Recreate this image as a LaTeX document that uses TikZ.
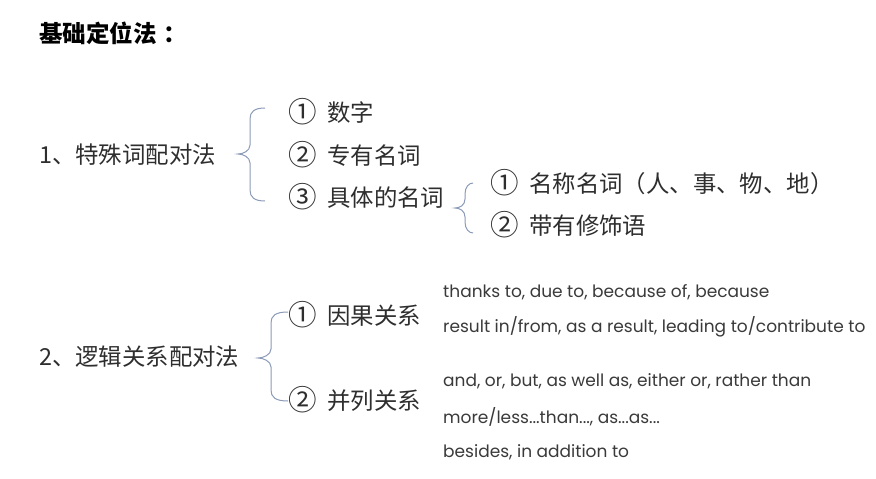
\documentclass[tikz,border=0pt]{standalone}
\usepackage{fontspec}
\setmainfont{Noto Sans CJK SC}
\newfontfamily\engfont{Poppins}
\definecolor{txt}{HTML}{2E2E2E}
\definecolor{engtxt}{HTML}{3A3A3A}
\definecolor{bracecol}{HTML}{8C9BB8}
\newcommand\drawbrace[6]{% tip x, tip y, vertical x, end x, top y, bottom y
  \draw[bracecol, line width=1pt]
    (#4,#5) .. controls ({#3+4},#5) and (#3,{#5+4}) .. (#3,{#5+11})
    -- (#3,{#2-9}) .. controls (#3,{#2-3}) and ({#1+5},#2) .. (#1,#2)
    .. controls ({#1+5},#2) and (#3,{#2+3}) .. (#3,{#2+9})
    -- (#3,{#6-11}) .. controls (#3,{#6-4}) and ({#3+4},#6) .. (#4,#6);
}
\newcommand\circnum[1]{\makebox[39pt][l]{\raisebox{-0.06em}{\scalebox{1.22}{#1}}}}
\begin{document}
\begin{tikzpicture}[x=1pt,y=-1pt,
  cn/.style={anchor=west, inner sep=0pt, text=txt, font=\fontsize{23.4}{27}\selectfont},
  title/.style={anchor=west, inner sep=0pt, text=black, font=\fontsize{23.5}{27}\selectfont\bfseries},
  en/.style={anchor=west, inner sep=0pt, text=engtxt, font=\engfont\fontsize{17}{20}\selectfont}]
\useasboundingbox (0,0) rectangle (876,479);
\fill[white] (0,0) rectangle (876,479);

\node[title] (t) at (39,33) {基础定位法\hspace{0.3em}：};

\node[cn] (m1) at (39,155) {1、特殊词配对法};
\node[cn] (a1) at (288,112) {\circnum{①}数字};
\node[cn] (a2) at (288,155) {\circnum{②}专有名词};
\node[cn] (a3) at (288,197) {\circnum{③}具体的名词};
\node[cn] (b1) at (490,183) {\circnum{①}名称名词（人、事、物、地）};
\node[cn] (b2) at (490,225) {\circnum{②}带有修饰语};

\node[cn] (m2) at (39,357) {2、逻辑关系配对法};
\node[cn] (c1) at (288,315) {\circnum{①}因果关系};
\node[cn] (c2) at (288,400) {\circnum{②}并列关系};

\node[en] (e1) at (443,292) {thanks to, due to, because of, because};
\node[en] (e2) at (443,327) {result in/from, as a result, leading to/contribute to};
\node[en] (e3) at (443,381) {and, or, but, as well as, either or, rather than};
\node[en] (e4) at (443,417) {more/less...than..., as...as...};
\node[en] (e5) at (443,452) {besides, in addition to};

\drawbrace{238}{154}{250}{265}{108}{201}
\drawbrace{455}{208}{465}{473}{183}{233}
\drawbrace{258}{358}{271}{288}{312}{401}
\end{tikzpicture}
\end{document}
